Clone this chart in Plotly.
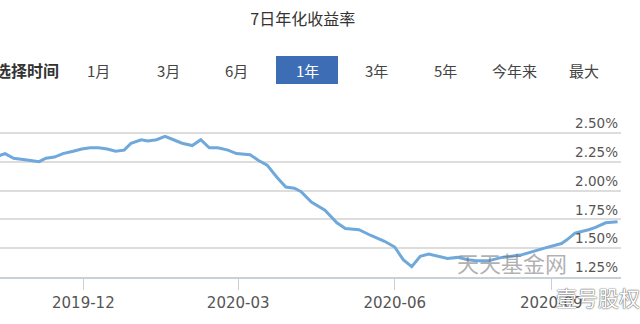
import plotly.graph_objects as go

# ---- data ----
dates = [
    "2019-10-12", "2019-10-16", "2019-10-21", "2019-10-25", "2019-10-31", "2019-11-05",
    "2019-11-09", "2019-11-14", "2019-11-19", "2019-11-25", "2019-11-30", "2019-12-05",
    "2019-12-10", "2019-12-15", "2019-12-20", "2019-12-25", "2019-12-29", "2020-01-04",
    "2020-01-08", "2020-01-13", "2020-01-18", "2020-01-23", "2020-01-28", "2020-02-03",
    "2020-02-08", "2020-02-13", "2020-02-18", "2020-02-24", "2020-02-29", "2020-03-08",
    "2020-03-13", "2020-03-18", "2020-03-24", "2020-03-29", "2020-04-03", "2020-04-07",
    "2020-04-13", "2020-04-21", "2020-04-28", "2020-05-03", "2020-05-11", "2020-05-18",
    "2020-05-26", "2020-06-01", "2020-06-06", "2020-06-11", "2020-06-16", "2020-06-21",
    "2020-06-26", "2020-07-02", "2020-07-08", "2020-07-14", "2020-07-19", "2020-07-26",
    "2020-08-03", "2020-08-14", "2020-08-28", "2020-09-07", "2020-09-10", "2020-09-15",
    "2020-09-23", "2020-09-27", "2020-10-03", "2020-10-10",
]
yield7d = [
    2.30, 2.32, 2.28, 2.27, 2.26, 2.25,
    2.28, 2.29, 2.32, 2.34, 2.36, 2.37,
    2.37, 2.36, 2.34, 2.35, 2.41, 2.44,
    2.43, 2.44, 2.47, 2.44, 2.41, 2.39,
    2.44, 2.37, 2.37, 2.35, 2.32, 2.31,
    2.26, 2.22, 2.11, 2.03, 2.02, 1.99,
    1.90, 1.83, 1.72, 1.67, 1.66, 1.61,
    1.56, 1.51, 1.40, 1.34, 1.43, 1.45,
    1.43, 1.41, 1.42, 1.40, 1.39, 1.39,
    1.42, 1.44, 1.50, 1.54, 1.57, 1.63,
    1.66, 1.68, 1.72, 1.73,
]

y_ticks = [1.25, 1.50, 1.75, 2.00, 2.25, 2.50, 2.75]
y_ticktext = ["1.25%", "1.50%", "1.75%", "2.00%", "2.25%", "2.50%", ""]
x_ticks = ["2019-12-01", "2020-03-01", "2020-06-01", "2020-09-01"]
x_ticktext = ["2019-12", "2020-03", "2020-06", "2020-09"]

buttons = ["1月", "3月", "6月", "1年", "3年", "5年", "今年来", "最大"]
button_x = [98, 168, 237, 307, 376, 445, 514, 584]
active = "1年"

W, H = 640, 324
ML, MR, MT, MB = 0, 19, 104, 47

fig = go.Figure()
fig.add_trace(go.Scatter(
    x=dates, y=yield7d, mode="lines",
    line=dict(color="#6fa8db", width=3),
    hoverinfo="skip", showlegend=False,
))

AX_FONT = "DejaVu Sans"
CJK = "Noto Sans CJK SC"

fig.update_layout(
    width=W, height=H,
    margin=dict(l=ML, r=MR, t=MT, b=MB, pad=0),
    paper_bgcolor="white", plot_bgcolor="white",
    xaxis=dict(
        type="date",
        range=["2019-10-13", "2020-10-12"],
        tickvals=x_ticks, ticktext=x_ticktext,
        ticks="outside", ticklen=11, tickwidth=1, tickcolor="#c8d0d8",
        showgrid=False, zeroline=False,
        showline=True, linecolor="#c8d0d8", linewidth=2,
        tickfont=dict(family=AX_FONT, size=15, color="#555555"),
    ),
    yaxis=dict(
        range=[1.25, 2.75],
        side="right",
        tickvals=y_ticks, ticktext=y_ticktext,
        ticklabelposition="inside top",
        ticks="", showline=False, zeroline=False,
        showgrid=True, gridcolor="#dddddd", gridwidth=1.5,
        tickfont=dict(family=AX_FONT, size=13.5, color="#555555"),
    ),
    title=dict(
        text="7日年化收益率",
        x=312 / W, xanchor="center", xref="paper",
        y=1 - 19 / H, yanchor="middle", yref="container",
        font=dict(family=CJK, size=16, color="#333333"),
    ),
)

# button bar
shapes = []
annotations = []
for label, bx in zip(buttons, button_x):
    is_active = label == active
    if is_active:
        shapes.append(dict(
            type="rect", xref="paper", yref="paper",
            x0=(276 - ML) / (W - ML - MR), x1=(338 - ML) / (W - ML - MR),
            y0=(H - MB - 84) / (H - MT - MB), y1=(H - MB - 56) / (H - MT - MB),
            fillcolor="#3d6db4", line=dict(width=0), layer="above",
        ))
    annotations.append(dict(
        text=label, xref="paper", yref="paper",
        x=(bx - ML) / (W - ML - MR), y=(H - MB - 70) / (H - MT - MB),
        xanchor="center", yanchor="middle", showarrow=False,
        font=dict(family=CJK, size=15, color="white" if is_active else "#444444"),
    ))
annotations.append(dict(
    text="选择时间", xref="paper", yref="paper",
    x=(61 - ML) / (W - ML - MR), y=(H - MB - 70) / (H - MT - MB),
    xanchor="right", yanchor="middle", showarrow=False,
    font=dict(family=CJK, size=16, color="#333333", weight="bold"),
))
# watermarks
annotations.append(dict(
    text="天天基金网", xref="paper", yref="paper",
    x=(512 - ML) / (W - ML - MR), y=(H - MB - 262) / (H - MT - MB),
    xanchor="center", yanchor="middle", showarrow=False,
    font=dict(family=CJK, size=22, color="rgba(110,110,110,0.55)"),
))
annotations.append(dict(
    text="壹号股权", xref="paper", yref="paper",
    x=(598 - ML) / (W - ML - MR), y=(H - MB - 297) / (H - MT - MB),
    xanchor="center", yanchor="middle", showarrow=False,
    font=dict(family=CJK, size=21, color="white",
              shadow="0px 0px 1.5px #444, 0px 0px 1px #666"),
))
fig.update_layout(shapes=shapes, annotations=annotations)

fig.write_html("out.html")
